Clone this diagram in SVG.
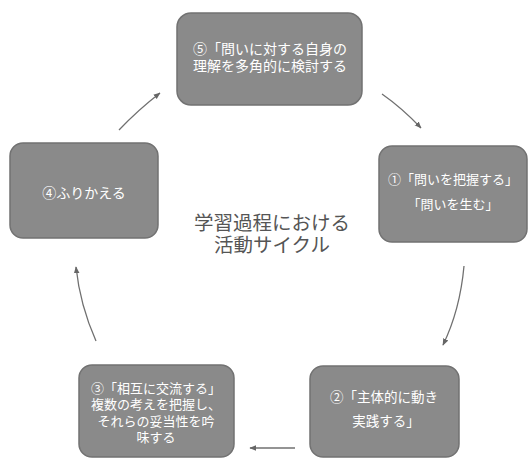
<svg xmlns="http://www.w3.org/2000/svg" width="528" height="459" viewBox="0 0 528 459">
<defs>
<style>
.box{fill:#8a8a8a;stroke:#727272;stroke-width:1.5}
.t{fill:#ffffff;font-family:"Liberation Sans","Noto Sans CJK JP","Noto Sans CJK SC",sans-serif;text-anchor:middle}
.c{fill:#555555;font-family:"Liberation Sans","Noto Sans CJK JP","Noto Sans CJK SC",sans-serif;font-size:19.5px;text-anchor:middle}
.arr{fill:none;stroke:#707070;stroke-width:1.3}
</style>
<marker id="ah" viewBox="0 0 10 10" refX="9" refY="5" markerWidth="7" markerHeight="7" orient="auto" markerUnits="userSpaceOnUse">
<path d="M0,1 L10,5 L0,9 Z" fill="#666"/>
</marker>
</defs>
<rect width="528" height="459" fill="#ffffff"/>
<g id="node5">
<rect class="box" x="177" y="13" width="185" height="92" rx="14"/>
<text class="t" font-size="14"><tspan x="270" y="54">⑤「問いに対する自身の</tspan><tspan x="270" y="71">理解を多角的に検討する</tspan></text>
</g>
<g id="node1">
<rect class="box" x="379" y="146" width="148" height="96" rx="13"/>
<text class="t" font-size="13"><tspan x="453" y="184">①「問いを把握する」</tspan><tspan x="453" y="209">「問いを生む」</tspan></text>
</g>
<g id="node2">
<rect class="box" x="310" y="366" width="149" height="91" rx="13"/>
<text class="t" font-size="13.5"><tspan x="384" y="402">②「主体的に動き</tspan><tspan x="386" y="426">実践する」</tspan></text>
</g>
<g id="node3">
<rect class="box" x="79" y="365" width="155" height="92" rx="13"/>
<text class="t" font-size="13"><tspan x="156" y="393">③「相互に交流する」</tspan><tspan x="156" y="409">複数の考えを把握し、</tspan><tspan x="156" y="426">それらの妥当性を吟</tspan><tspan x="156" y="442">味する</tspan></text>
</g>
<g id="node4">
<rect class="box" x="10" y="143" width="148" height="95" rx="13"/>
<text class="t" font-size="14" x="84" y="198">④ふりかえる</text>
</g>
<g id="title">
<text class="c"><tspan x="272" y="230">学習過程における</tspan><tspan x="272" y="252">活動サイクル</tspan></text>
</g>
<g id="connectors">
<path class="arr" d="M119,130 Q138,110 160,93" marker-end="url(#ah)"/>
<path class="arr" d="M382,94 Q402,108 421,128" marker-end="url(#ah)"/>
<path class="arr" d="M464,266 Q460,310 443,345" marker-end="url(#ah)"/>
<path class="arr" d="M295,448 L250,448" marker-end="url(#ah)"/>
<path class="arr" d="M96,341 Q80,305 76,267" marker-end="url(#ah)"/>
</g>
</svg>
